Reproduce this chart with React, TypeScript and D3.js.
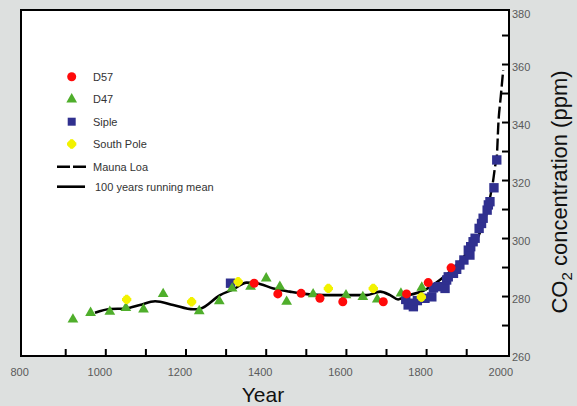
import { useEffect, useRef } from 'react';
import * as d3 from 'd3';

type Pt = [number, number];

// ice core samples, [year, ppm]
const d57: Pt[] = [
  [1370, 284.6], [1429, 280.9], [1487, 281.1], [1534, 279.4], [1591, 278.2],
  [1692, 278.2], [1750, 280.9], [1804, 284.8], [1861, 289.9],
];
const d47: Pt[] = [
  [918, 272.1], [962, 274.4], [1010, 274.8], [1050, 276.1], [1094, 275.6],
  [1143, 280.9], [1233, 275.0], [1283, 278.4], [1315, 282.8], [1361, 283.4],
  [1400, 286.3], [1434, 283.4], [1451, 278.2], [1517, 280.8], [1599, 280.5],
  [1641, 279.9], [1677, 279.0], [1736, 281.1], [1788, 283.1],
];
const siple: Pt[] = [
  [1311, 284.6], [1748, 279.0], [1754, 277.1], [1763, 277.7], [1767, 276.5],
  [1777, 278.6], [1796, 279.4], [1813, 279.9], [1817, 283.0], [1829, 283.4],
  [1846, 282.8], [1850, 285.7], [1854, 286.8], [1867, 288.0], [1875, 289.4],
  [1883, 290.9], [1893, 292.6], [1904, 296.0], [1908, 294.3], [1910, 297.2],
  [1916, 298.9], [1921, 300.1], [1931, 303.5], [1937, 305.2], [1941, 307.0],
  [1951, 309.8], [1954, 311.6], [1958, 312.7], [1968, 317.5], [1975, 327.1],
];
const southPole: Pt[] = [
  [1052, 279.0], [1214, 278.2], [1330, 285.1], [1555, 282.8], [1667, 282.8],
  [1787, 279.8],
];
const maunaLoa: Pt[] = [
  [1958, 314], [1966, 320], [1971, 325], [1975, 328], [1979, 339.7],
  [1985, 349], [1991, 358],
];
const runningMean: Pt[] = [
  [973, 274.4], [1010, 275.7], [1050, 275.9], [1085, 277.1], [1123, 278.4],
  [1168, 277.1], [1218, 275.6], [1235, 275.8], [1285, 280.5], [1318, 282.5],
  [1351, 284.8], [1376, 284.6], [1418, 282.8], [1459, 281.7], [1484, 281.1],
  [1542, 280.5], [1601, 280.5], [1651, 280.5], [1684, 281.7], [1709, 280.5],
  [1729, 279.0], [1750, 280.2], [1792, 282.0], [1833, 285.7], [1867, 289.7],
  [1900, 294.9], [1925, 299.5], [1946, 307.1], [1961, 313.3],
];

const xTicks = [900, 1000, 1100, 1200, 1300, 1400, 1500, 1600, 1700, 1800, 1900];
const xLabels = [800, 1000, 1200, 1400, 1600, 1800, 2000];
const yTicks = [270, 280, 290, 300, 310, 320, 330, 340, 350, 360, 370];
const yLabels = [260, 280, 300, 320, 340, 360, 380];

const legendItems = ['D57', 'D47', 'Siple', 'South Pole', 'Mauna Loa', '100 years running mean'];

const W = 577;
const H = 406;
const RED = '#ff0a0a';
const GREEN = '#4fae2b';
const BLUE = '#30308f';
const YELLOW = '#f2f200';
const FONT = '"Liberation Sans", Arial, sans-serif';

const App = () => {
  const svgRef = useRef<SVGSVGElement>(null);

  useEffect(() => {
    const svg = d3.select(svgRef.current);
    svg.selectAll('*').remove();

    const left = 21;
    const right = 509;
    const top = 10;
    const bottom = 356;

    const x = d3.scaleLinear().domain([788.5, 2005.5]).range([left, right]);
    const y = d3.scaleLinear().domain([259.5, 378.8]).range([bottom, top]);

    // background
    svg.append('rect').attr('width', W).attr('height', H).attr('fill', '#dde0df');
    svg
      .append('rect')
      .attr('x', left)
      .attr('y', top)
      .attr('width', right - left)
      .attr('height', bottom - top)
      .attr('fill', '#fff');

    const line = d3
      .line<Pt>()
      .x((d) => x(d[0]))
      .y((d) => y(d[1]))
      .curve(d3.curveMonotoneX);

    // lines
    svg
      .append('path')
      .attr('d', line(runningMean) as string)
      .attr('fill', 'none')
      .attr('stroke', '#000')
      .attr('stroke-width', 2.6);
    svg
      .append('path')
      .attr('d', line(maunaLoa) as string)
      .attr('fill', 'none')
      .attr('stroke', '#000')
      .attr('stroke-width', 2.4)
      .attr('stroke-dasharray', '12,4');

    const sq = d3.symbol(d3.symbolSquare, 88)();
    const tri = d3.symbol(d3.symbolTriangle, 50)();
    const cross = d3.symbol(d3.symbolCross, 48)();

    const drawSP = (g: d3.Selection<SVGGElement, unknown, null, undefined>) => {
      g.append('path').attr('d', cross as string).attr('fill', YELLOW);
      g.append('circle').attr('r', 4.3).attr('fill', YELLOW);
    };

    // markers
    svg
      .append('g')
      .selectAll('path')
      .data(siple)
      .enter()
      .append('path')
      .attr('d', sq as string)
      .attr('transform', (d) => `translate(${x(d[0])},${y(d[1])})`)
      .attr('fill', BLUE);
    svg
      .append('g')
      .selectAll('path')
      .data(d47)
      .enter()
      .append('path')
      .attr('d', tri as string)
      .attr('transform', (d) => `translate(${x(d[0])},${y(d[1])})`)
      .attr('fill', GREEN);
    svg
      .append('g')
      .selectAll('circle')
      .data(d57)
      .enter()
      .append('circle')
      .attr('cx', (d) => x(d[0]))
      .attr('cy', (d) => y(d[1]))
      .attr('r', 4.5)
      .attr('fill', RED);
    southPole.forEach((d) => {
      drawSP(svg.append('g').attr('transform', `translate(${x(d[0])},${y(d[1])})`));
    });

    // frame + ticks
    svg
      .append('rect')
      .attr('x', left)
      .attr('y', top)
      .attr('width', right - left)
      .attr('height', bottom - top)
      .attr('fill', 'none')
      .attr('stroke', '#000')
      .attr('stroke-width', 2);
    svg
      .append('g')
      .selectAll('line')
      .data(xTicks)
      .enter()
      .append('line')
      .attr('x1', (d) => x(d))
      .attr('x2', (d) => x(d))
      .attr('y1', bottom)
      .attr('y2', bottom - 7)
      .attr('stroke', '#000')
      .attr('stroke-width', 2);
    svg
      .append('g')
      .selectAll('line')
      .data(yTicks)
      .enter()
      .append('line')
      .attr('x1', right)
      .attr('x2', right - 7)
      .attr('y1', (d) => y(d))
      .attr('y2', (d) => y(d))
      .attr('stroke', '#000')
      .attr('stroke-width', 2);

    // tick labels
    svg
      .append('g')
      .selectAll('text')
      .data(xLabels)
      .enter()
      .append('text')
      .attr('x', (d) => x(d) - 6)
      .attr('y', 376)
      .attr('text-anchor', 'middle')
      .attr('font-family', FONT)
      .attr('font-size', 11)
      .attr('fill', '#5a5a5a')
      .text((d) => d);
    svg
      .append('g')
      .selectAll('text')
      .data(yLabels)
      .enter()
      .append('text')
      .attr('x', 512)
      .attr('y', (d) => Math.max(y(d) + 3, 14))
      .attr('dy', '0.35em')
      .attr('font-family', FONT)
      .attr('font-size', 11)
      .attr('fill', '#5a5a5a')
      .text((d) => d);

    // axis titles
    svg
      .append('text')
      .attr('x', 263)
      .attr('y', 402)
      .attr('text-anchor', 'middle')
      .attr('font-family', FONT)
      .attr('font-size', 21)
      .attr('fill', '#111')
      .text('Year');
    const yt = svg
      .append('text')
      .attr('transform', 'translate(567,192) rotate(-90)')
      .attr('text-anchor', 'middle')
      .attr('font-family', FONT)
      .attr('font-size', 22)
      .attr('fill', '#111');
    yt.append('tspan').text('CO');
    yt.append('tspan').attr('font-size', 15).attr('dy', 5).text('2');
    yt.append('tspan').attr('dy', -5).text(' concentration (ppm)');

    // legend
    const lg = svg.append('g').attr('font-family', FONT).attr('font-size', 11).attr('fill', '#333');
    const rows = [76.7, 99.3, 121.7, 144, 166.7, 186.7];
    lg.append('circle').attr('cx', 71.7).attr('cy', rows[0]).attr('r', 4.5).attr('fill', RED);
    lg.append('path').attr('d', tri as string).attr('transform', `translate(71.7,${rows[1]})`).attr('fill', GREEN);
    lg.append('path')
      .attr('d', d3.symbol(d3.symbolSquare, 64)() as string)
      .attr('transform', `translate(71.7,${rows[2]})`)
      .attr('fill', BLUE);
    drawSP(lg.append('g').attr('transform', `translate(71.7,${rows[3]})`));
    lg.append('line')
      .attr('x1', 57).attr('x2', 87).attr('y1', rows[4]).attr('y2', rows[4])
      .attr('stroke', '#000').attr('stroke-width', 2.4).attr('stroke-dasharray', '13,3');
    lg.append('line')
      .attr('x1', 57).attr('x2', 85).attr('y1', rows[5]).attr('y2', rows[5])
      .attr('stroke', '#000').attr('stroke-width', 2.6);
    legendItems.forEach((t, i) => {
      lg.append('text')
        .attr('x', i === 5 ? 95 : 93)
        .attr('y', rows[i])
        .attr('dy', '0.35em')
        .text(t);
    });
  }, []);

  return (
    <div style={{ position: 'absolute', left: 0, top: 0 }}>
      <svg ref={svgRef} width={W} height={H} style={{ display: 'block' }} />
    </div>
  );
};

export default App;
